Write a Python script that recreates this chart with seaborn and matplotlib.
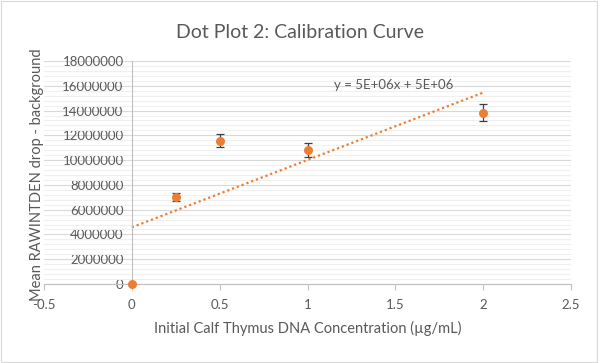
import numpy as np
import pandas as pd
import matplotlib
matplotlib.use("Agg")
import matplotlib.pyplot as plt
import seaborn as sns
from matplotlib.ticker import MultipleLocator
from matplotlib.patches import Rectangle

# --- DATA ---
concentration = [0, 0.25, 0.5, 1, 2]
mean_signal = [0, 7020000, 11570000, 10840000, 13830000]
signal_err = [0, 330000, 540000, 550000, 690000]

TITLE = "Dot Plot 2: Calibration Curve"
X_LABEL = "Initial Calf Thymus DNA Concentration (µg/mL)"
Y_LABEL = "Mean RAWINTDEN drop - background"
EQUATION = "y = 5E+06x + 5E+06"

ORANGE = "#ed7d31"
TEXT_GRAY = "#595959"

df = pd.DataFrame({"conc": concentration, "signal": mean_signal, "err": signal_err})

sns.set_theme(style="white")
plt.rcParams["font.family"] = ["Lato", "DejaVu Sans"]

fig = plt.figure(figsize=(6, 3.63), dpi=100)
ax = fig.add_axes([0.0733, 0.2176, 0.8784, 0.6144])

# trendline (linear fit)
sns.regplot(data=df, x="conc", y="signal", ax=ax, ci=None, scatter=False,
            truncate=True, line_kws={"color": ORANGE, "ls": (0, (1, 1.3)), "lw": 1.6})

# error bars + points
ax.errorbar(df["conc"], df["signal"], yerr=df["err"], fmt="none",
            ecolor="#404040", elinewidth=0.9, capsize=2.6, capthick=0.9, zorder=3)
sns.scatterplot(data=df, x="conc", y="signal", ax=ax, color=ORANGE, s=42,
                edgecolor=ORANGE, linewidth=0, zorder=4, clip_on=False)

ax.set_xlim(-0.5, 2.5)
ax.set_ylim(0, 18000000)
ax.yaxis.set_major_locator(MultipleLocator(2000000))
ax.yaxis.set_minor_locator(MultipleLocator(400000))
ax.set_xticks([-0.5, 0, 0.5, 1, 1.5, 2, 2.5])
ax.set_xticklabels(["-0.5", "0", "0.5", "1", "1.5", "2", "2.5"])
ax.set_yticklabels([f"{int(v)}" for v in ax.get_yticks()])

ax.grid(which="major", axis="y", color="#d9d9d9", lw=0.8)
ax.grid(which="minor", axis="y", color="#f0f0f0", lw=0.8)
ax.set_axisbelow(True)

for s in ["top", "right"]:
    ax.spines[s].set_visible(False)
ax.spines["left"].set_position(("data", 0))
ax.spines["left"].set_color("#bfbfbf")
ax.spines["bottom"].set_color("#bfbfbf")
ax.spines["left"].set_linewidth(0.8)
ax.spines["bottom"].set_linewidth(0.8)

ax.tick_params(axis="x", which="major", length=4, width=0.8, color="#bfbfbf",
               labelsize=9.5, labelcolor=TEXT_GRAY, pad=7, direction="out", bottom=True)
ax.tick_params(axis="y", which="both", length=0, labelsize=9.5, labelcolor=TEXT_GRAY, pad=6)

ax.set_xlabel(X_LABEL, fontsize=10.5, color=TEXT_GRAY)
ax.set_ylabel(Y_LABEL, fontsize=10.5, color=TEXT_GRAY)
ax.xaxis.set_label_coords(0.5, -0.165)
ax.yaxis.set_label_coords(0.0, 0.49)

ax.text(1.49, 16100000, EQUATION, fontsize=9.5, color=TEXT_GRAY, ha="center", va="center")

fig.suptitle(TITLE, x=0.5, y=0.935, fontsize=14, color=TEXT_GRAY)

# chart area border
fig.patches.append(Rectangle((0.002, 0.004), 0.993, 0.993, transform=fig.transFigure,
                             fill=False, edgecolor="#d9d9d9", lw=0.8))

fig.savefig("out.png", dpi=100)
